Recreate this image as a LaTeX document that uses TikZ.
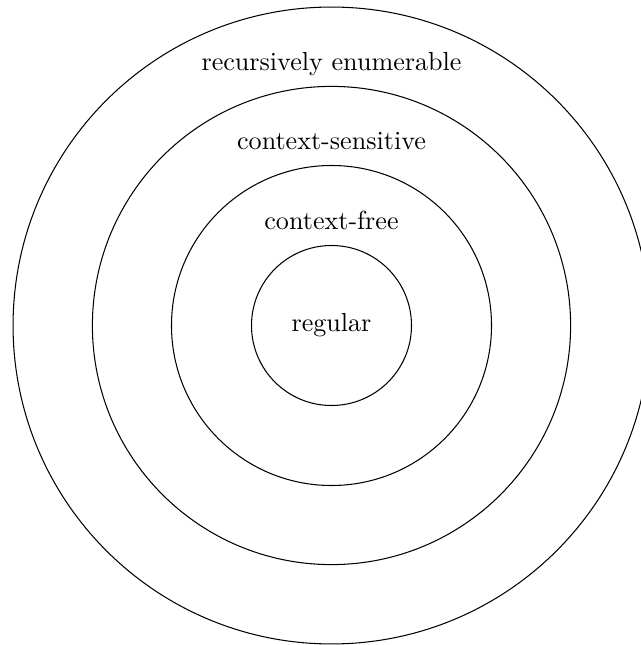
\documentclass[tikz,border=0pt]{standalone}
\begin{document}
\begin{tikzpicture}[x=1pt,y=1pt,
  ring/.style={draw,circle,minimum size=#1,inner sep=0pt,line width=0.4pt},
  lbl/.style={inner sep=0pt}]
\useasboundingbox (0,0) rectangle (245.2,247.1);
\coordinate (c) at (127.0,122.4);
\node[ring=244.0pt] (re) at (c) {};
\node[ring=183.2pt] (cs) at (c) {};
\node[ring=122.6pt] (cf) at (c) {};
\node[ring=61.3pt] (rg) at (c) {};
\node[lbl] (lrg) at (c) {regular};
\node[lbl] (lcf) at ([yshift=40.3pt]c) {context-free};
\node[lbl] (lcs) at ([yshift=70.8pt]c) {context-sensitive};
\node[lbl] (lre) at ([yshift=100.3pt]c) {recursively enumerable};
\end{tikzpicture}
\end{document}
